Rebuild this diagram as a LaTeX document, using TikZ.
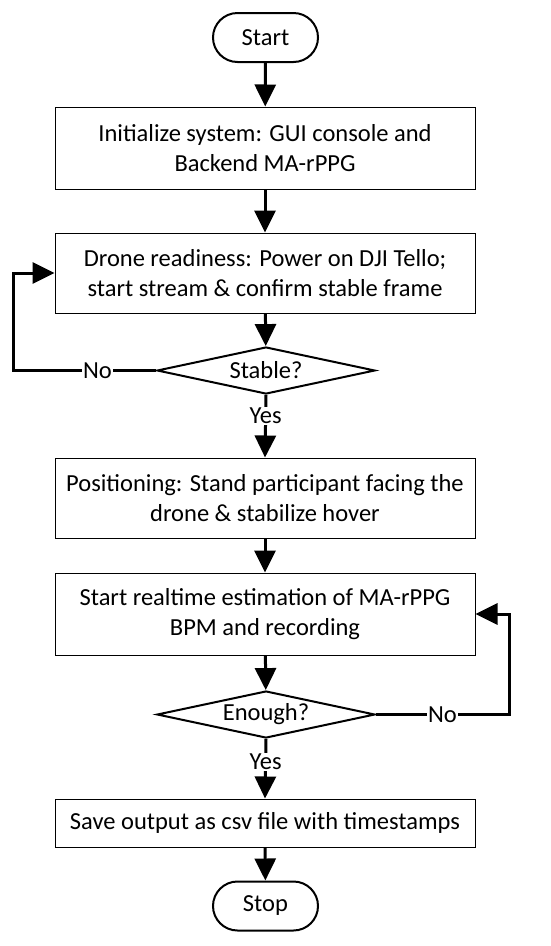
\documentclass[tikz,border=0pt]{standalone}
\usepackage{fontspec}
\setmainfont{Carlito}
\usetikzlibrary{shapes.geometric,shapes.misc,arrows.meta}
\begin{document}
\begin{tikzpicture}[x=1pt,y=-1pt,
  every node/.style={font=\fontsize{24.5}{30}\selectfont},
  term/.style={draw,rounded rectangle,line width=2pt,minimum width=105pt,minimum height=49pt,inner sep=0pt},
  box/.style={draw,line width=1pt,minimum width=420pt,align=center,inner sep=0pt},
  dec/.style={draw,diamond,line width=2pt,aspect=4.64,minimum width=218pt,minimum height=47pt,inner sep=0pt},
  conn/.style={line width=3pt,-{Triangle[width=21pt,length=22pt]}},
  lbl/.style={fill=white,inner sep=1pt}]
\useasboundingbox (0,0) rectangle (550,946);
\node[term] (start) at (265.5,37.5) {Start};
\node[box,minimum height=82pt] (b1) at (265,148) {Initialize system: GUI console and\\Backend MA-rPPG};
\node[box,minimum height=80pt] (b2) at (265,273) {Drone readiness: Power on DJI Tello;\\start stream \& confirm stable frame};
\node[dec] (s) at (266,370.5) {Stable?};
\node[box,minimum height=80pt] (b3) at (265,498) {Positioning: Stand participant facing the\\drone \& stabilize hover};
\node[box,minimum height=82pt] (b4) at (265,614) {Start realtime estimation of MA-rPPG\\BPM and recording};
\node[dec] (e) at (266,714.5) {Enough?};
\node[box,minimum height=48pt] (b5) at (265,823) {Save output as csv file with timestamps};
\node[term] (stop) at (265.5,906) {Stop};
\coordinate (sL) at (13,370.5);
\coordinate (eR) at (509,714.5);
\draw[conn] (start) -- (b1);
\draw[conn] (b1) -- (b2);
\draw[conn] (b2) -- (s);
\draw[conn] (s.south) -- node[lbl,pos=0.33]{Yes} (b3.north);
\draw[conn] (b3) -- (b4);
\draw[conn] (b4) -- (e);
\draw[conn] (e.south) -- node[lbl,pos=0.38]{Yes} (b5.north);
\draw[conn] (b5) -- (stop);
\draw[conn] (s.west) -- node[lbl,pos=0.41]{No} (sL) |- (b2.west);
\draw[conn] (e.east) -- node[lbl,pos=0.5]{No} (eR) |- (b4.east);
\end{tikzpicture}
\end{document}
